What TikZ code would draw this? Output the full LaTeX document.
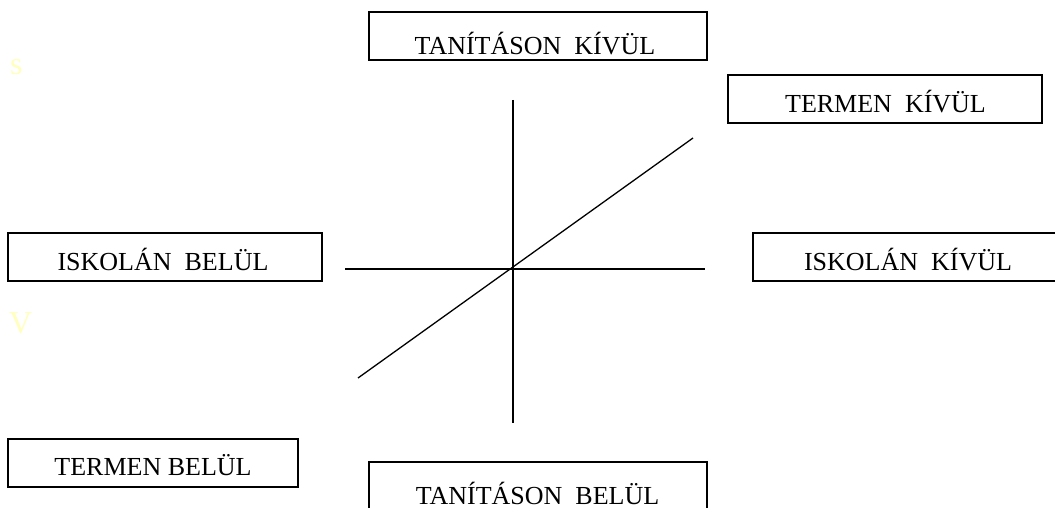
\documentclass[tikz,border=0pt]{standalone}
\usepackage{fontspec}
\setmainfont{Liberation Serif}
\definecolor{paleyellow}{RGB}{255,255,190}
\begin{document}
\begin{tikzpicture}[x=1pt,y=-1pt,
  boxstyle/.style={draw=black,line width=1.4pt,inner sep=0pt,rectangle},
  lbl/.style={anchor=base,inner sep=0pt,font=\fontsize{26}{30}\selectfont},
  axis/.style={draw=black,line width=1.3pt},
  faint/.style={anchor=base west,inner sep=0pt,text=paleyellow,font=\fontsize{32}{36}\selectfont}]
\useasboundingbox (0,0) rectangle (1055,508);
\clip (0,0) rectangle (1055,508);
% boxes
\node[boxstyle,minimum width=338pt,minimum height=48pt] (tk) at (538,36) {};
\node[boxstyle,minimum width=314pt,minimum height=48pt] (tmk) at (885,99) {};
\node[boxstyle,minimum width=314pt,minimum height=48pt] (ib) at (165,257) {};
\node[boxstyle,minimum width=310pt,minimum height=48pt] (ik) at (908,257) {};
\node[boxstyle,minimum width=290pt,minimum height=48pt] (tmb) at (153,463) {};
\node[boxstyle,minimum width=338pt,minimum height=48pt] (tb) at (538,486) {};
% labels
\node[lbl] (tkt) at (535,55) {TANÍTÁSON\ \ KÍVÜL};
\node[lbl] (tmkt) at (885.5,113) {TERMEN\ \ KÍVÜL};
\node[lbl] (ibt) at (163,270) {ISKOLÁN\ \ BELÜL};
\node[lbl] (ikt) at (908,270) {ISKOLÁN\ \ KÍVÜL};
\node[lbl] (tmbt) at (153,475) {TERMEN BELÜL};
\node[lbl] (tbt) at (537.5,504) {TANÍTÁSON\ \ BELÜL};
% faint letters
\node[faint] (fs) at (10,75) {s};
\node[faint] (fv) at (9,333) {V};
% axes
\coordinate (vt) at (513,100);
\coordinate (vb) at (513,423);
\coordinate (hl) at (345,269);
\coordinate (hr) at (705,269);
\coordinate (dl) at (358,378);
\coordinate (dr) at (693,138);
\draw[axis] (vt) -- (vb);
\draw[axis] (hl) -- (hr);
\draw[axis] (dl) -- (dr);
\end{tikzpicture}
\end{document}
